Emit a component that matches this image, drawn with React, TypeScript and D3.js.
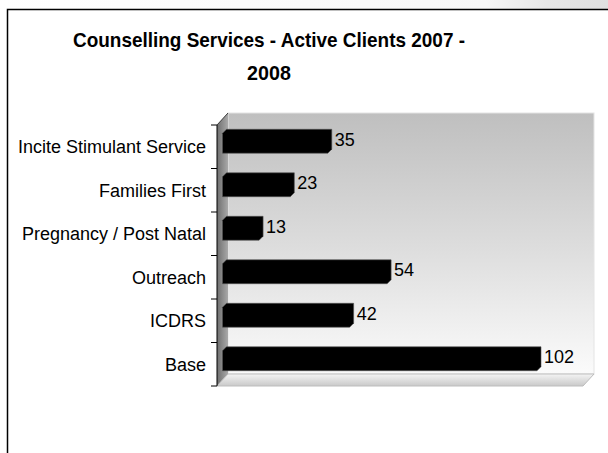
import React from "react";
import * as d3 from "d3";

const categories = [
  "Incite Stimulant Service",
  "Families First",
  "Pregnancy / Post Natal",
  "Outreach",
  "ICDRS",
  "Base",
];
const values = [35, 23, 13, 54, 42, 102];
const titleLines = ["Counselling Services - Active Clients 2007 -", "2008"];

const W = 608;
const H = 453;
const FONT = "'Liberation Sans', Arial, sans-serif";

export default function App() {
  const left = 217;
  const right = 583;
  const top = 125;
  const bottom = 386;
  const depth = 11;
  const half = depth / 2;

  const yOuter = d3.scaleBand<string>().domain(categories).range([top, bottom]).padding(0);
  const yBar = d3
    .scaleBand<string>()
    .domain(categories)
    .range([top, bottom])
    .paddingInner(0.45)
    .paddingOuter(0.225);
  const x = d3.scaleLinear().domain([0, 102]).range([left + half, 541]);

  const step = yOuter.step();
  const tickYs = categories.map((c) => yOuter(c) as number).concat([bottom]);
  const c = 4;

  const barPath = (v: number, cat: string) => {
    const x0 = x(0);
    const x1 = x(v);
    const y0 = (yBar(cat) as number) - half;
    const y1 = y0 + yBar.bandwidth();
    const p = d3.path();
    p.moveTo(x0, y0 + c);
    p.lineTo(x0 + c, y0);
    p.lineTo(x1, y0);
    p.lineTo(x1, y1 - c);
    p.lineTo(x1 - c, y1);
    p.lineTo(x0, y1);
    p.closePath();
    return p.toString();
  };

  const bl = left + depth;
  const br = right + depth;
  const bt = top - 12;
  const bb = bottom - 12;

  return (
    <svg
      width={W}
      height={H}
      style={{ position: "absolute", left: 0, top: 0, background: "#fff" }}
      fontFamily={FONT}
    >
      <defs>
        <linearGradient id="topStrip" x1="0" y1="0" x2="1" y2="0">
          <stop offset="0" stopColor="#ffffff" />
          <stop offset="0.8" stopColor="#f7f7f7" />
          <stop offset="0.9" stopColor="#e6e6e6" />
          <stop offset="1" stopColor="#e0e0e0" />
        </linearGradient>
        <linearGradient id="backWall" x1="0" y1="0" x2="0" y2="1">
          <stop offset="0" stopColor="#bfbfbf" />
          <stop offset="0.5" stopColor="#dcdcdc" />
          <stop offset="1" stopColor="#fbfbfb" />
        </linearGradient>
        <linearGradient id="sideWall" x1="0" y1="0" x2="1" y2="0">
          <stop offset="0" stopColor="#6e6e6e" />
          <stop offset="1" stopColor="#a9a9a9" />
        </linearGradient>
        <linearGradient id="floor" x1="0" y1="0" x2="0" y2="1">
          <stop offset="0" stopColor="#f4f4f4" />
          <stop offset="1" stopColor="#c9c9c9" />
        </linearGradient>
      </defs>

      <rect x={0} y={0} width={W} height={9} fill="url(#topStrip)" />
      <rect x={7.5} y={9.5} width={W + 10} height={H + 10} fill="#fff" stroke="#000" strokeWidth={1.5} />

      {titleLines.map((t, i) => (
        <text
          key={i}
          x={269}
          y={47 + i * 33}
          textAnchor="middle"
          fontSize={20.5}
          fontWeight="bold"
          fill="#000"
          textLength={i === 0 ? 392 : undefined}
          lengthAdjust={i === 0 ? "spacingAndGlyphs" : undefined}
          transform={i === 1 ? "translate(269,0) scale(0.96,1) translate(-269,0)" : undefined}
        >
          {t}
        </text>
      ))}

      <rect x={bl} y={bt} width={br - bl} height={bb - bt} fill="url(#backWall)" stroke="#e4e4e4" strokeWidth={1} />
      <polygon
        points={`${left},${top} ${bl},${bt} ${bl},${bb} ${left},${bottom}`}
        fill="url(#sideWall)"
      />
      <polygon
        points={`${left},${bottom} ${bl},${bb} ${br},${bb} ${right},${bottom}`}
        fill="url(#floor)"
        stroke="#bdbdbd"
        strokeWidth={1}
      />
      <line x1={left} y1={top} x2={bl} y2={bt} stroke="#3a3a3a" strokeWidth={1} />

      {categories.map((cat, i) => (
        <path key={cat} d={barPath(values[i], cat)} fill="#000" stroke="#555" strokeWidth={0.6} />
      ))}

      <line x1={left} y1={top} x2={left} y2={bottom} stroke="#000" strokeWidth={1} />
      {tickYs.map((ty, i) => (
        <line key={i} x1={left - 6} y1={ty} x2={left} y2={ty} stroke="#000" strokeWidth={1} />
      ))}

      {categories.map((cat) => (
        <text
          key={cat}
          x={206}
          y={(yOuter(cat) as number) + step / 2 + 6.5}
          textAnchor="end"
          fontSize={18}
          fill="#000"
        >
          {cat}
        </text>
      ))}

      {categories.map((cat, i) => (
        <text
          key={cat + "v"}
          x={x(values[i]) + 3}
          y={(yOuter(cat) as number) + step / 2 - 1}
          fontSize={18}
          fill="#000"
        >
          {values[i]}
        </text>
      ))}
    </svg>
  );
}
